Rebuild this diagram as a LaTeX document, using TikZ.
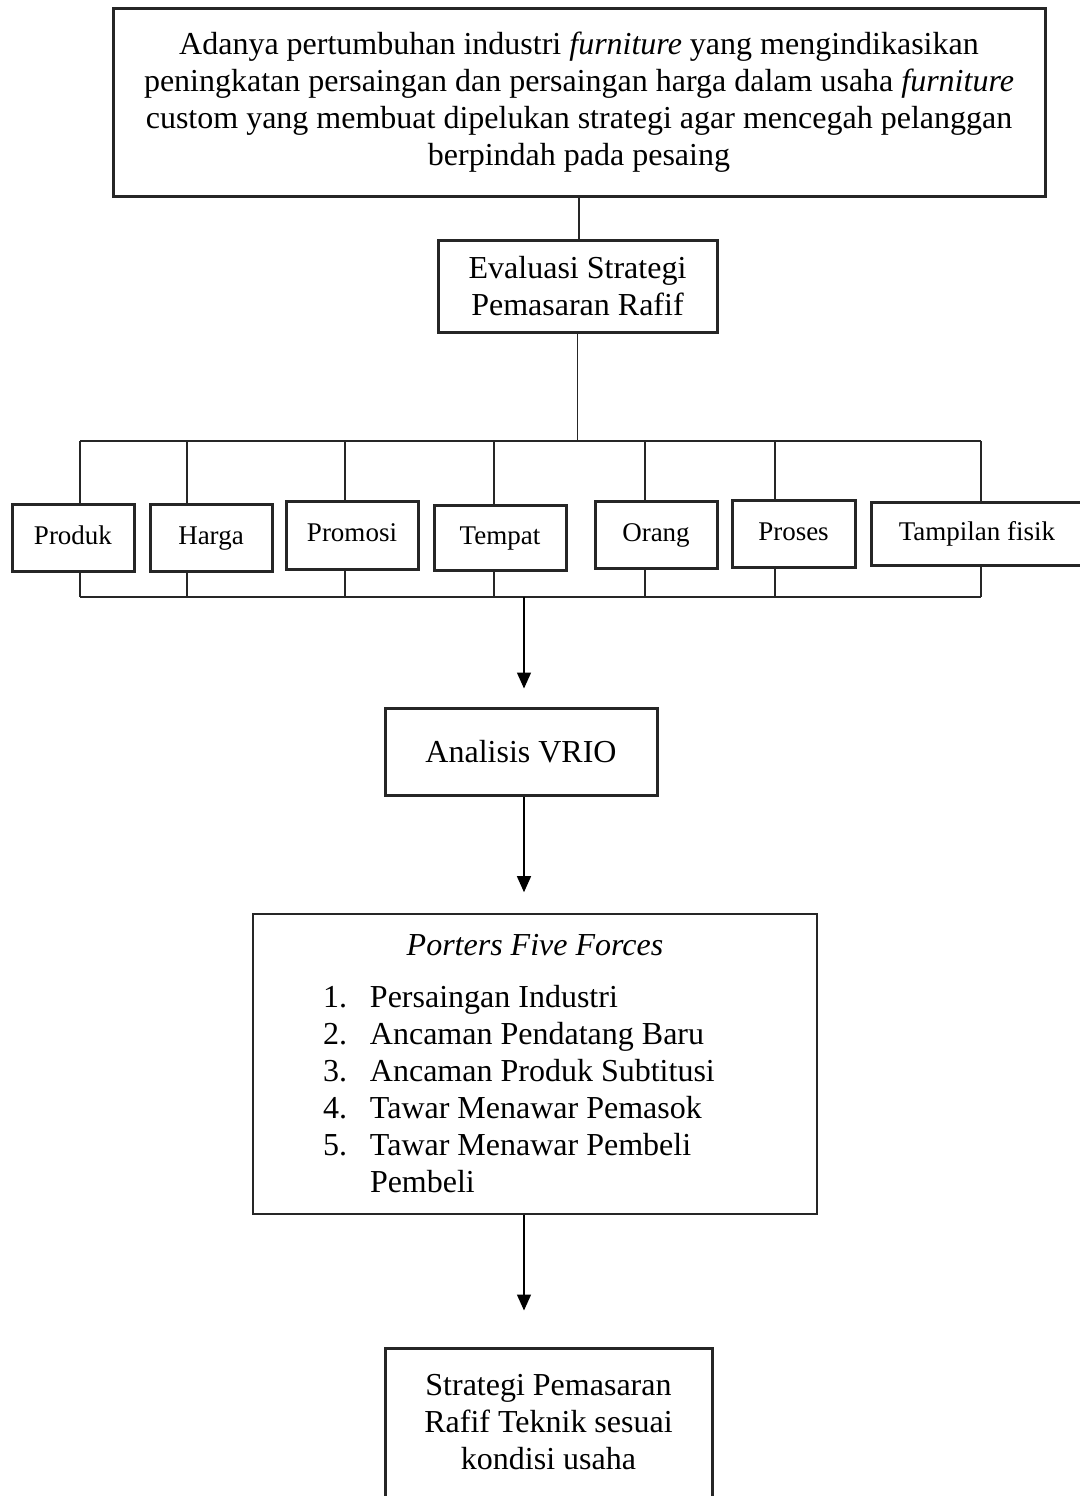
\documentclass[tikz,border=0pt]{standalone}
\usepackage{fontspec}
\setmainfont{Liberation Serif}
\usetikzlibrary{arrows.meta}
\begin{document}
\begin{tikzpicture}[x=0.5pt,y=-0.5pt,
  box/.style={draw=black!85, line width=1.5pt, inner sep=0pt, align=center,
    font=\fontsize{16}{18.5}\selectfont},
  smallbox/.style={draw=black!85, line width=1.5pt, inner sep=0pt,
    text height=9.5pt, text depth=3pt,
    font=\fontsize{13.5}{16}\selectfont},
  conn/.style={draw=black!85, line width=0.7pt},
  arr/.style={draw=black, line width=0.7pt, -{Triangle[width=7pt,length=8pt]}}]
\useasboundingbox (0,0) rectangle (1080,1496);

% top box
\node[box, minimum width=466pt, minimum height=94pt] (top) at (579,102)
 {Adanya pertumbuhan industri \textit{furniture} yang mengindikasikan\\
  peningkatan persaingan dan persaingan harga dalam usaha \textit{furniture}\\
  custom yang membuat dipelukan strategi agar mencegah pelanggan\\
  berpindah pada pesaing};

\node[box, minimum width=139.5pt, minimum height=46pt] (eval) at (577.5,286)
 {Evaluasi Strategi\\Pemasaran Rafif};

% seven boxes
\node[smallbox, minimum width=61pt, minimum height=33.5pt] (produk) at (73,537.5) {Produk};
\node[smallbox, minimum width=61pt, minimum height=33.5pt] (harga) at (211,537.5) {Harga};
\node[smallbox, minimum width=66pt, minimum height=34pt] (promosi) at (352,535) {Promosi};
\node[smallbox, minimum width=66pt, minimum height=32.5pt] (tempat) at (500,537.5) {Tempat};
\node[smallbox, minimum width=61pt, minimum height=33.5pt] (orang) at (656,535) {Orang};
\node[smallbox, minimum width=61.5pt, minimum height=33.5pt] (proses) at (793.5,533.5) {Proses};
\node[smallbox, minimum width=106pt, minimum height=31.5pt] (fisik) at (977,533.5) {Tampilan fisik};

\node[box, minimum width=136pt, minimum height=43.5pt] (vrio) at (521,751.5) {Analisis VRIO};

\node[box, line width=0.8pt, minimum width=282pt, minimum height=150pt] (porter) at (535,1064)
 {\begin{minipage}{282pt}
  \parindent=0pt
  {\centering\itshape Porters Five Forces\par}
  \vspace{7.5pt}
  \leftskip=58.5pt
  \noindent\llap{\makebox[23.5pt][l]{1.}}Persaingan Industri\par
  \noindent\llap{\makebox[23.5pt][l]{2.}}Ancaman Pendatang Baru\par
  \noindent\llap{\makebox[23.5pt][l]{3.}}Ancaman Produk Subtitusi\par
  \noindent\llap{\makebox[23.5pt][l]{4.}}Tawar Menawar Pemasok\par
  \noindent\llap{\makebox[23.5pt][l]{5.}}Tawar Menawar Pembeli\\Pembeli\par
  \end{minipage}};

\node[box, minimum width=163.5pt, minimum height=82pt] (final) at (548.5,1430)
 {\raisebox{0pt}[\height][\dimexpr\depth+5pt\relax]{\begin{tabular}{@{}c@{}}Strategi Pemasaran\\Rafif Teknik sesuai\\kondisi usaha\end{tabular}}};

% bus coordinates
\coordinate (t1) at (80,441);  \coordinate (b1) at (80,597);
\coordinate (t2) at (187,441); \coordinate (b2) at (187,597);
\coordinate (t3) at (345,441); \coordinate (b3) at (345,597);
\coordinate (t4) at (494,441); \coordinate (b4) at (494,597);
\coordinate (t5) at (645,441); \coordinate (b5) at (645,597);
\coordinate (t6) at (775,441); \coordinate (b6) at (775,597);
\coordinate (t7) at (981,441); \coordinate (b7) at (981,597);
\coordinate (am) at (524,597);

\draw[conn] (top.south) -- (top.south |- eval.north);
\draw[conn] (eval.south) -- (eval.south |- t1);
\draw[conn] (t1) -- (t7);
\draw[conn] (b1) -- (b7);
\foreach \i/\n in {1/produk,2/harga,3/promosi,4/tempat,5/orang,6/proses,7/fisik}{
  \draw[conn] (t\i) -- (t\i |- \n.north);
  \draw[conn] (b\i |- \n.south) -- (b\i);
}

\draw[arr, shorten >=9pt] (am) -- (am |- vrio.north);
\draw[arr, shorten >=10.5pt] (vrio.south -| am) -- (am |- porter.north);
\draw[arr, shorten >=18pt] (porter.south -| am) -- (am |- final.north);
\end{tikzpicture}
\end{document}
